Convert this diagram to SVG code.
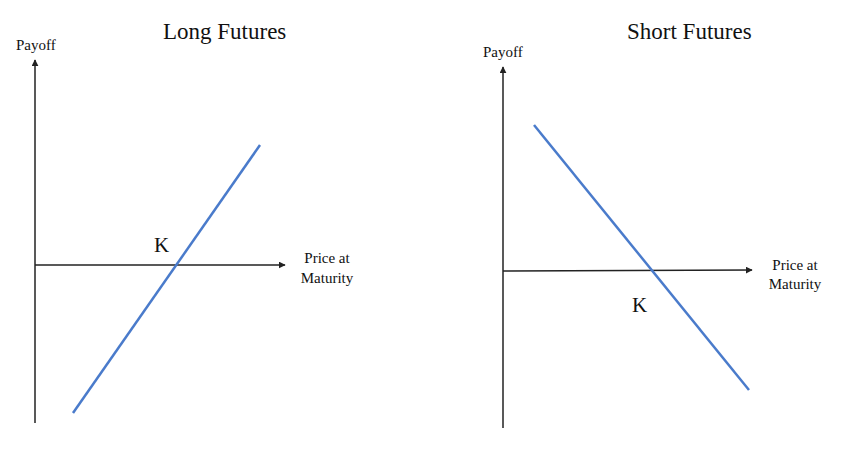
<svg xmlns="http://www.w3.org/2000/svg" width="850" height="456" viewBox="0 0 850 456">
<defs>
<marker id="arr" viewBox="0 0 10 10" refX="9" refY="5" markerWidth="7" markerHeight="7" markerUnits="userSpaceOnUse" orient="auto">
<path d="M0,0 L10,5 L0,10 z" fill="#222"/>
</marker>
</defs>
<style>
.ax{stroke:#222;stroke-width:1.5;fill:none}
.pay{stroke:#4a7bcb;stroke-width:2.5;fill:none}
text{font-family:"Liberation Serif","Times New Roman",serif;fill:#111}
.t{font-size:23px}
.s{font-size:15px}
.k{font-size:21px}
</style>
<rect width="850" height="456" fill="#fff"/>
<g id="long">
<text class="t" x="163" y="39">Long Futures</text>
<text class="s" x="16" y="50">Payoff</text>
<text class="s" x="327" y="263" text-anchor="middle">Price at</text>
<text class="s" x="327" y="283" text-anchor="middle">Maturity</text>
<text class="k" x="154" y="252">K</text>
</g>
<g id="short">
<text class="t" x="627" y="39">Short Futures</text>
<text class="s" x="483" y="57">Payoff</text>
<text class="s" x="795" y="270" text-anchor="middle">Price at</text>
<text class="s" x="795" y="289" text-anchor="middle">Maturity</text>
<text class="k" x="632" y="312">K</text>
</g>
<g id="connectors">
<line class="ax" x1="35" y1="423" x2="35" y2="60" marker-end="url(#arr)"/>
<line class="ax" x1="35" y1="265" x2="285" y2="265" marker-end="url(#arr)"/>
<line class="pay" x1="73" y1="413" x2="260" y2="145"/>
<line class="ax" x1="503" y1="428" x2="503" y2="67" marker-end="url(#arr)"/>
<line class="ax" x1="503" y1="271" x2="752" y2="270" marker-end="url(#arr)"/>
<line class="pay" x1="534" y1="125" x2="749" y2="390"/>
</g>
</svg>
